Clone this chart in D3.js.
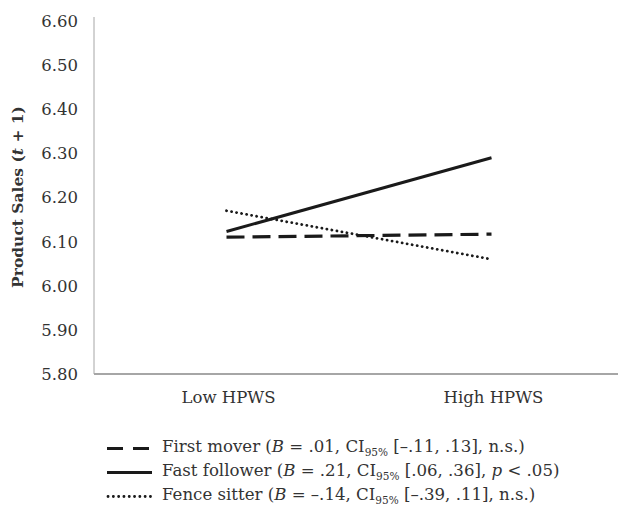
<!DOCTYPE html>
<html><head><meta charset="utf-8">
<script src="https://cdn.jsdelivr.net/npm/d3@7"></script>
<style>body{margin:0;background:#fff}svg{display:block}</style>
</head><body>
<svg id="c" width="618" height="509"></svg>
<script>
const categories = ["Low HPWS", "High HPWS"];
const firstMover = [6.110, 6.117];
const fastFollower = [6.123, 6.290];
const fenceSitter = [6.170, 6.060];
const yTicks = [5.80, 5.90, 6.00, 6.10, 6.20, 6.30, 6.40, 6.50, 6.60];
const seriesNames = ["First mover", "Fast follower", "Fence sitter"];

const svg = d3.select("#c");
const font = "DejaVu Serif";
const txt = "#333";
const x = d3.scaleBand().domain(categories).range([94, 624]);
const y = d3.scaleLinear().domain([5.8, 6.6]).range([374, 21]);

// y axis
svg.append("line").attr("x1", 94).attr("x2", 94).attr("y1", 17).attr("y2", 374)
  .attr("stroke", "#a6a6a6").attr("stroke-width", 1);
svg.append("g").selectAll("text").data(yTicks).join("text")
  .attr("x", 78).attr("y", d => y(d)).attr("dy", "0.36em")
  .attr("text-anchor", "end").attr("font-family", font).attr("font-size", 16.5)
  .attr("fill", txt).text(d => d.toFixed(2));
// x axis
svg.append("line").attr("x1", 94).attr("x2", 618).attr("y1", y(5.8)).attr("y2", y(5.8))
  .attr("stroke", "#a6a6a6").attr("stroke-width", 1.8);
svg.append("g").selectAll("text").data(categories).join("text")
  .attr("x", d => x(d) + x.bandwidth() / 2 + 2).attr("y", 403)
  .attr("text-anchor", "middle").attr("font-family", font).attr("font-size", 16.5)
  .attr("fill", txt).text(d => d);

// y title
const yt = svg.append("text").attr("transform", "translate(23,197) rotate(-90)")
  .attr("text-anchor", "middle").attr("font-family", font).attr("font-size", 15.5)
  .attr("font-weight", "bold").attr("fill", txt);
yt.append("tspan").text("Product Sales (");
yt.append("tspan").attr("font-style", "italic").text("t");
yt.append("tspan").text(" + 1)");

const styles = [
  {dash: "18,8", w: 3.2, cap: "butt"},
  {dash: null, w: 3, cap: "butt"},
  {dash: "0.1,5", w: 2.8, cap: "round"}
];
const data = [firstMover, fastFollower, fenceSitter];
const line = d3.line().x((d, i) => x(categories[i]) + x.bandwidth() / 2).y(d => y(d));
data.forEach((s, k) => {
  svg.append("path").attr("d", line(s)).attr("fill", "none")
    .attr("stroke", "#1a1a1a").attr("stroke-width", styles[k].w)
    .attr("stroke-dasharray", styles[k].dash).attr("stroke-linecap", styles[k].cap);
});

// legend
const legendRows = [
  {pre: "First mover (", B: ".01", ci: "[–.11, .13], ", tail: [["n.s.)", false]]},
  {pre: "Fast follower (", B: ".21", ci: "[.06, .36], ", tail: [["p", true], [" < .05)", false]]},
  {pre: "Fence sitter (", B: "–.14", ci: "[–.39, .11], ", tail: [["n.s.)", false]]}
];
const legDash = ["16,10", null, "0.1,5.2"];
legendRows.forEach((r, k) => {
  const by = 452 + k * 24;
  svg.append("line").attr("x1", k === 2 ? 108 : 107).attr("x2", 152)
    .attr("y1", by - 3.5).attr("y2", by - 3.5)
    .attr("stroke", "#1a1a1a").attr("stroke-width", styles[k].w)
    .attr("stroke-dasharray", legDash[k]).attr("stroke-linecap", styles[k].cap);
  const t = svg.append("text").attr("x", 162).attr("y", by)
    .attr("font-family", font).attr("font-size", 16.6).attr("fill", txt);
  t.append("tspan").text(r.pre);
  t.append("tspan").attr("font-style", "italic").text("B");
  t.append("tspan").text(" = " + r.B + ", CI");
  t.append("tspan").attr("font-size", 10.5).attr("dy", 4).text("95%");
  t.append("tspan").attr("dy", -4).text(" " + r.ci);
  r.tail.forEach(([s, it]) => {
    const ts = t.append("tspan").text(s);
    if (it) ts.attr("font-style", "italic");
  });
});
</script>
</body></html>
